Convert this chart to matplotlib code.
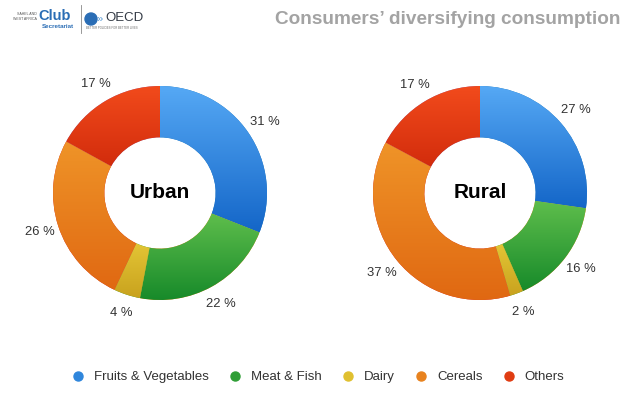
import matplotlib
matplotlib.use('Agg')
import matplotlib.pyplot as plt
import numpy as np
from matplotlib.colors import to_rgba
from matplotlib.lines import Line2D
from matplotlib.patches import Circle

categories = ['Fruits & Vegetables', 'Meat & Fish', 'Dairy', 'Cereals', 'Others']
urban = [31, 22, 4, 26, 17]
rural = [27, 16, 2, 37, 17]
panels = ['Urban', 'Rural']
title = 'Consumers’ diversifying consumption'

top_colors = ['#56a9f5', '#5fbe4c', '#e3c535', '#ef9428', '#f24b1c']
bottom_colors = ['#1466c8', '#178a2a', '#c9a21e', '#e06812', '#d22c0c']
legend_colors = ['#2f86dc', '#2f9e36', '#e0c030', '#e8821e', '#e03c12']

W, H = 638, 399
FONT = 'Liberation Sans'
fig = plt.figure(figsize=(W / 100, H / 100), dpi=100)
fig.patch.set_facecolor('white')

R_px = 107
lim = 1.35


def px(x, y):
    return x / W, 1 - y / H


def add_donut(cx, cy, values, name):
    size = 2 * lim * R_px
    ax = fig.add_axes([(cx - size / 2) / W, (H - cy - size / 2) / H, size / W, size / H])
    wedges, texts = ax.pie(values, labels=[f'{v} %' for v in values], startangle=90,
                           counterclock=False, radius=1, labeldistance=1.18,
                           wedgeprops=dict(width=0.48, linewidth=0),
                           textprops=dict(fontsize=9.4, color='#333333', family=FONT))
    for t in texts:
        t.set_ha('center')
        t.set_va('center')
    grad = np.linspace(0, 1, 256)[:, None, None]
    for w, ct, cb in zip(wedges, top_colors, bottom_colors):
        ext = w.get_path().get_extents()
        c0 = np.array(to_rgba(cb))
        c1 = np.array(to_rgba(ct))
        img = c0 + (c1 - c0) * grad
        im = ax.imshow(img, extent=[ext.x0, ext.x1, ext.y0, ext.y1], origin='lower',
                       aspect='auto', interpolation='bilinear', zorder=w.get_zorder() + 0.1)
        im.set_clip_path(w)
    ax.text(0, 0, name, ha='center', va='center', fontsize=15, fontweight='bold',
            family=FONT, color='black')
    ax.set_xlim(-lim, lim)
    ax.set_ylim(-lim, lim)
    ax.set_aspect('equal')
    ax.axis('off')


add_donut(160, 193, urban, panels[0])
add_donut(480, 193, rural, panels[1])

# Title
fig.text(*px(620, 20), title, ha='right', va='center', fontsize=13.7, fontweight='bold',
         color='#a3a3a3', family=FONT)

# Legend
handles = [Line2D([], [], marker='o', ls='', markersize=6.5, color=c) for c in legend_colors]
leg = fig.legend(handles, categories, ncol=5, loc='center', bbox_to_anchor=px(318, 377),
                 frameon=False, handletextpad=0.7, columnspacing=1.5, handlelength=1.0,
                 prop=dict(family=FONT, size=9.5))
for t in leg.get_texts():
    t.set_color('#333333')

# Logo (approximation)
blue = '#2a6db5'
fig.text(*px(37, 14), 'SAHEL AND', ha='right', va='center', fontsize=2.6, color='#555555', family=FONT)
fig.text(*px(37, 19), 'WEST AFRICA', ha='right', va='center', fontsize=2.6, color='#555555', family=FONT)
fig.text(*px(38, 16), 'Club', ha='left', va='center', fontsize=10.5, fontweight='bold', color=blue, family=FONT)
fig.text(*px(42, 26), 'Secretariat', ha='left', va='center', fontsize=4.5, fontweight='bold', color=blue, family=FONT)
fig.add_artist(Line2D([81 / W, 81 / W], [1 - 5 / H, 1 - 33 / H], color='#888888', lw=0.6))
fig.add_artist(Circle((0.91, (H - 19) / 100), 0.06, transform=fig.dpi_scale_trans, color='#2a6db5'))
fig.text(*px(100, 19), '»', ha='center', va='center', fontsize=8, color='#5a9bd5', family=FONT)
fig.text(*px(105, 18), 'OECD', ha='left', va='center', fontsize=9.5, color='#333a45', family=FONT)
fig.text(*px(86, 28), 'BETTER POLICIES FOR BETTER LIVES', ha='left', va='center', fontsize=2, color='#666666', family=FONT)

fig.savefig('out.png', dpi=100, facecolor='white')
